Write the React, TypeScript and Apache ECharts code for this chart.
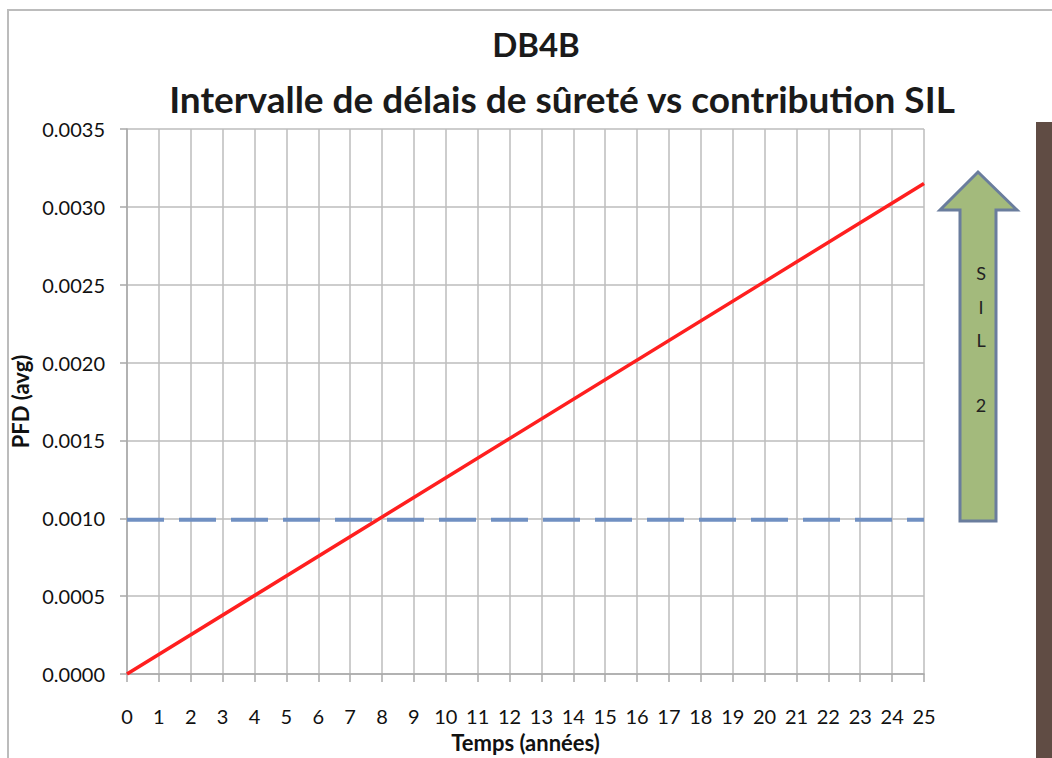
import React, { useEffect, useRef } from "react";
import * as echarts from "echarts";

const years = [0, 25];
const pfdAvg = [0, 0.00315];
const sil2Years = [0, 25];
const sil2Limit = [0.00099, 0.00099];
const yTicks = [0, 0.0005, 0.001, 0.0015, 0.002, 0.0025, 0.003, 0.0035];
const titleMain = "DB4B";
const titleSub = "Intervalle de délais de sûreté vs contribution SIL";
const arrowLetters = ["S", "I", "L", "2"];

const FONT = "Lato, 'Open Sans', sans-serif";

export default function App() {
  const ref = useRef<HTMLDivElement>(null);
  useEffect(() => {
    if (!ref.current) return;
    const chart = echarts.init(ref.current, undefined, { renderer: "svg" });
    const letterY = [273, 307, 340, 405];
    chart.setOption({
      animation: false,
      backgroundColor: "#ffffff",
      textStyle: { fontFamily: FONT },
      grid: { left: 127, right: 128, top: 129, bottom: 68, containLabel: false },
      xAxis: {
        type: "value",
        min: 0,
        max: 25,
        interval: 1,
        name: "Temps (années)",
        nameLocation: "middle",
        nameGap: 57,
        nameTextStyle: { fontFamily: FONT, fontWeight: "bold", fontSize: 22, color: "#111" },
        axisLine: { show: true, lineStyle: { color: "#a8a8a8", width: 1.5 } },
        axisTick: { show: true, length: 8, lineStyle: { color: "#a8a8a8", width: 1.5 } },
        axisLabel: { fontFamily: FONT, fontSize: 20, color: "#111", margin: 32 },
        splitLine: { show: true, lineStyle: { color: "#bdbdbd", width: 1.5 } },
      },
      yAxis: {
        type: "value",
        min: 0,
        max: yTicks[yTicks.length - 1],
        interval: 0.0005,
        name: "PFD (avg)",
        nameLocation: "middle",
        nameGap: 92,
        nameRotate: 90,
        nameTextStyle: { fontFamily: FONT, fontWeight: "bold", fontSize: 22, color: "#111" },
        axisLine: { show: true, lineStyle: { color: "#a8a8a8", width: 1.5 } },
        axisTick: { show: true, length: 7, lineStyle: { color: "#a8a8a8", width: 1.5 } },
        axisLabel: {
          fontFamily: FONT,
          fontSize: 20,
          color: "#111",
          margin: 22,
          formatter: (v: number) => v.toFixed(4),
        },
        splitLine: { show: true, lineStyle: { color: "#bdbdbd", width: 1.5 } },
      },
      series: [
        {
          type: "line",
          name: "SIL 2",
          data: sil2Years.map((x, i) => [x, sil2Limit[i]]),
          showSymbol: false,
          lineStyle: { color: "#7090c2", width: 4, type: [37, 15] },
          z: 3,
        },
        {
          type: "line",
          name: "PFD",
          data: years.map((x, i) => [x, pfdAvg[i]]),
          showSymbol: false,
          lineStyle: { color: "#ff1f1f", width: 3.5 },
          z: 4,
        },
      ],
      graphic: [
        {
          type: "rect",
          shape: { x: 8, y: 10, width: 1100, height: 800 },
          style: { fill: "none", stroke: "#bcbcbc", lineWidth: 2 },
          z: 1,
        },
        {
          type: "rect",
          shape: { x: 1036, y: 122, width: 20, height: 700 },
          style: { fill: "#604c44" },
        },
        {
          type: "polygon",
          shape: {
            points: [
              [978, 172],
              [1017, 210],
              [996, 210],
              [996, 521],
              [960, 521],
              [960, 210],
              [940, 210],
            ],
          },
          style: { fill: "#a3ba7c", stroke: "#6a7d9d", lineWidth: 3 },
        },
        ...arrowLetters.map((t, i) => ({
          type: "text",
          x: 981,
          y: letterY[i],
          style: {
            text: t,
            fontFamily: FONT,
            fontSize: 18,
            fill: "#222",
            align: "center",
            verticalAlign: "middle",
          },
        })),
        {
          type: "text",
          x: 536,
          y: 44,
          style: {
            text: titleMain,
            fontFamily: FONT,
            fontWeight: "bold",
            fontSize: 33,
            fill: "#1a1a1a",
            align: "center",
            verticalAlign: "middle",
          },
        },
        {
          type: "text",
          x: 562,
          y: 98,
          style: {
            text: titleSub,
            fontFamily: FONT,
            fontWeight: "bold",
            fontSize: 37,
            fill: "#1a1a1a",
            align: "center",
            verticalAlign: "middle",
          },
        },
      ],
    });
    return () => chart.dispose();
  }, []);
  return (
    <div
      ref={ref}
      style={{ position: "fixed", left: 0, top: 0, width: 1052, height: 758 }}
    />
  );
}
